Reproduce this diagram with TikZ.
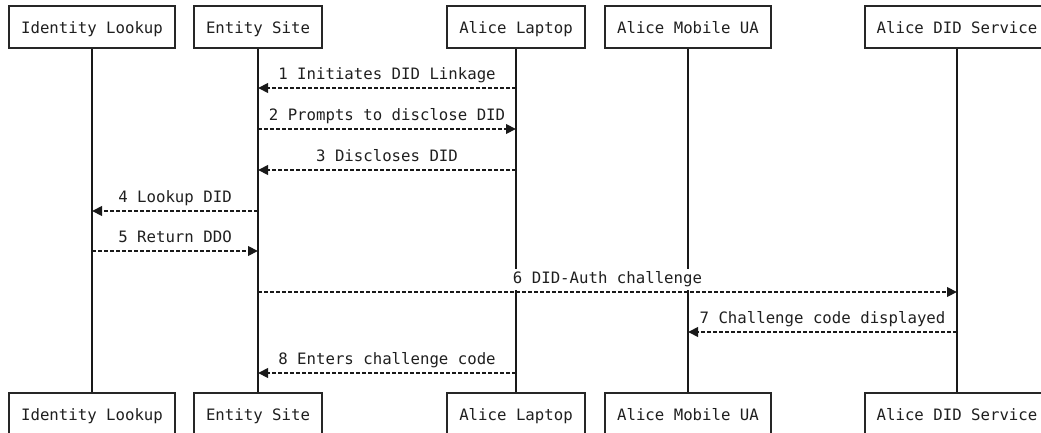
\documentclass[tikz,border=0pt]{standalone}
\usepackage{fontspec}
\newfontfamily\seqmono{DejaVu Sans Mono}
\newcommand\seqtext{\seqmono\fontsize{15.7pt}{18pt}\selectfont}
\usetikzlibrary{arrows.meta}
\begin{document}
\begin{tikzpicture}[x=1pt,y=-1pt,
  actor/.style={draw=black!85, line width=2.2pt, fill=white, font=\seqtext,
    text=black!88, inner xsep=12pt, minimum height=42pt,
    text height=13pt, text depth=0pt},
  life/.style={line width=2.2pt, draw=black!90},
  msg/.style={line width=2.1pt, draw=black!90, dash pattern=on 4pt off 2pt,
    -{Triangle[length=10pt,width=9.5pt]}},
  lbl/.style={fill=white, font=\seqtext, text=black!88, inner xsep=1pt,
    inner ysep=2.5pt, text height=12pt, text depth=3.5pt, anchor=base,
    yshift=8.5pt}
]
\useasboundingbox (0,0) rectangle (1041,433);

% participants, top row
\node[actor] (idT) at (92,27)  {Identity Lookup};
\node[actor] (esT) at (258,27) {Entity Site};
\node[actor] (alT) at (516,27) {Alice Laptop};
\node[actor] (muT) at (688,27) {Alice Mobile UA};
\node[actor] (dsT) at (957,27) {Alice DID Service};

% participants, bottom row
\node[actor] (idB) at (92,414)  {Identity Lookup};
\node[actor] (esB) at (258,414) {Entity Site};
\node[actor] (alB) at (516,414) {Alice Laptop};
\node[actor] (muB) at (688,414) {Alice Mobile UA};
\node[actor] (dsB) at (957,414) {Alice DID Service};

% lifelines
\draw[life] (idT.south) -- (idB.north);
\draw[life] (esT.south) -- (esB.north);
\draw[life] (alT.south) -- (alB.north);
\draw[life] (muT.south) -- (muB.north);
\draw[life] (dsT.south) -- (dsB.north);

% messages
\draw[msg] (alT |- 0,88)  -- node[lbl] {1 Initiates DID Linkage} (esT |- 0,88);
\draw[msg] (esT |- 0,129) -- node[lbl] {2 Prompts to disclose DID} (alT |- 0,129);
\draw[msg] (alT |- 0,170) -- node[lbl] {3 Discloses DID} (esT |- 0,170);
\draw[msg] (esT |- 0,211) -- node[lbl] {4 Lookup DID} (idT |- 0,211);
\draw[msg] (idT |- 0,251) -- node[lbl] {5 Return DDO} (esT |- 0,251);
\draw[msg] (esT |- 0,292) -- node[lbl] {6 DID-Auth challenge} (dsT |- 0,292);
\draw[msg] (dsT |- 0,332) -- node[lbl] {7 Challenge code displayed} (muT |- 0,332);
\draw[msg] (alT |- 0,373) -- node[lbl] {8 Enters challenge code} (esT |- 0,373);
\end{tikzpicture}
\end{document}
